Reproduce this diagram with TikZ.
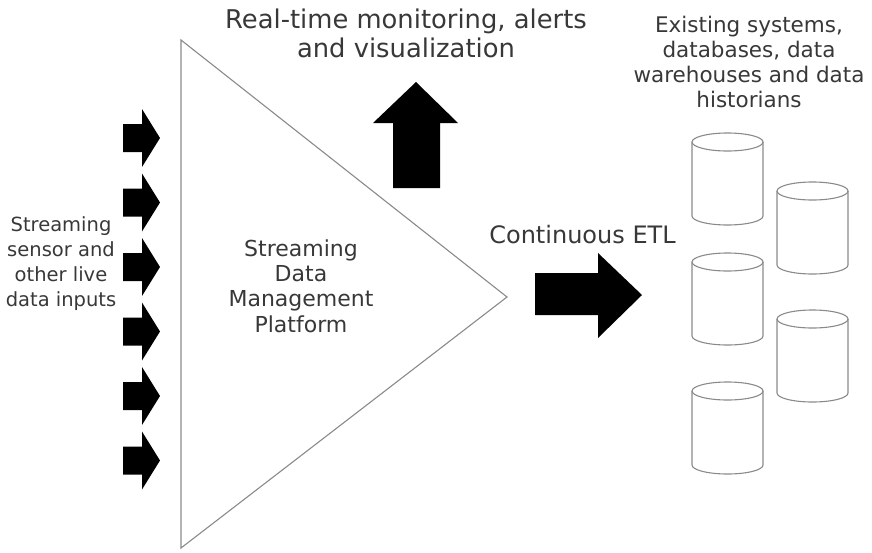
\documentclass[tikz,border=0pt]{standalone}
\usepackage{fontspec}
\setmainfont{DejaVu Sans}
\usetikzlibrary{calc}

\definecolor{txtgray}{HTML}{383838}
\definecolor{edgegray}{HTML}{8A8A8A}

\tikzset{
  txt/.style={text=txtgray, align=center, inner sep=0pt, anchor=base},
  cylline/.style={edgegray, line width=1.1pt},
}

\begin{document}
\begin{tikzpicture}[x=1pt, y=-1pt]
  \useasboundingbox (0,0) rectangle (872,552);

  % Platform triangle
  \coordinate (topleft) at (181,40);
  \coordinate (botleft) at (181,548);
  \coordinate (tip) at (507,297);
  \draw[edgegray, line width=1.1pt] (topleft) -- (tip) -- (botleft) -- cycle;

  % Input arrows
  \foreach \y in {138,202.5,267,331.5,396,460.5}
    \fill (123,\y-14) -- (142,\y-14) -- (142,\y-29) -- (160,\y)
      -- (142,\y+29) -- (142,\y+14) -- (123,\y+14) -- cycle;

  % Output arrow (up)
  \fill (393,188) -- (393,123) -- (373,123) -- (416,82) -- (458,123)
    -- (440,123) -- (440,188) -- cycle;

  % ETL arrow (right)
  \fill (535,273) -- (598,273) -- (598,253) -- (642,295) -- (598,338)
    -- (598,315) -- (535,315) -- cycle;

  % Databases
  \foreach \cx/\ty in {727.5/133, 812.5/182, 727.5/253, 812.5/310, 727.5/382} {
    \draw[cylline] (\cx-35.5,\ty+9) -- (\cx-35.5,\ty+83)
      arc[start angle=180, end angle=0, x radius=35.5, y radius=9]
      -- (\cx+35.5,\ty+9);
    \draw[cylline] (\cx,\ty+9) ellipse [x radius=35.5, y radius=9];
  }

  % Labels (base = last line)
  \node[txt, font=\fontsize{25.8}{29}\selectfont] (monitor) at (406,57)
    {Real-time monitoring, alerts\\and visualization};
  \node[txt, font=\fontsize{21.5}{25}\selectfont] (existing) at (749,107)
    {Existing systems,\\databases, data\\warehouses and data\\historians};
  \node[txt, font=\fontsize{24}{28}\selectfont] (etl) at (582.5,243)
    {Continuous ETL};
  \node[txt, font=\fontsize{19.5}{24.7}\selectfont] (inputs) at (61,306)
    {Streaming\\sensor and\\other live\\data inputs};
  \node[txt, font=\fontsize{22}{25.3}\selectfont] (platform) at (301,332)
    {Streaming\\Data\\Management\\Platform};
\end{tikzpicture}
\end{document}
